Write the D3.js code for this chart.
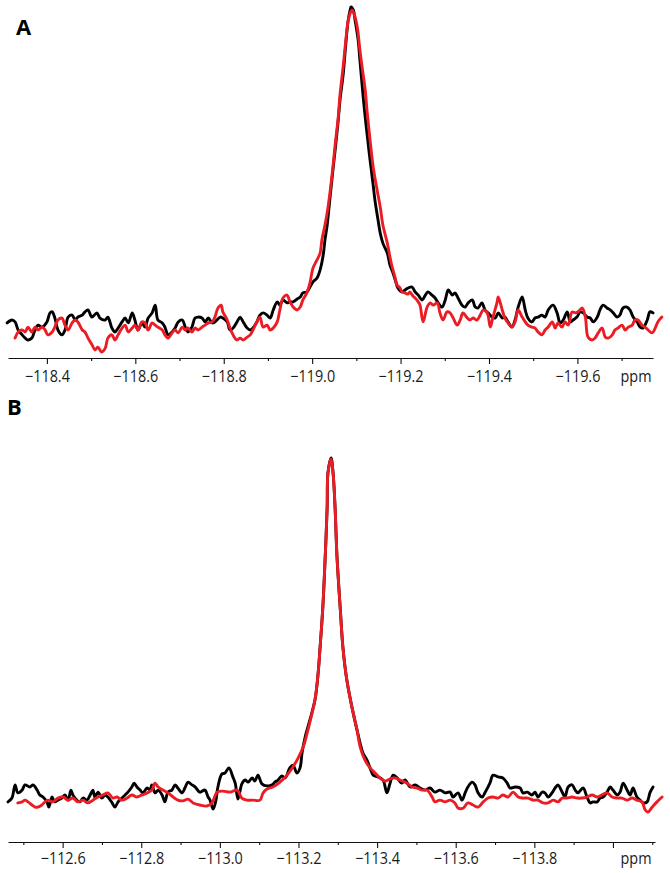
<!DOCTYPE html>
<html>
<head>
<meta charset="utf-8">
<script src="https://cdn.jsdelivr.net/npm/d3@7/dist/d3.min.js"></script>
<style>
  html, body { margin: 0; padding: 0; background: #fff; }
  svg { display: block; }
</style>
</head>
<body>
<script>
// ---------------- DATA ----------------
// Panel A: [ppm, relative intensity]
const aBlack = [[-118.310,2.2],[-118.321,3.1],[-118.328,2.5],[-118.335,0],[-118.344,-1.5],[-118.351,-2.5],[-118.357,-3.1],[-118.366,-2.5],[-118.373,0],[-118.380,1.5],[-118.389,0.9],[-118.400,2.5],[-118.407,5.3],[-118.412,5.6],[-118.418,3.7],[-118.425,0],[-118.434,-1.5],[-118.441,0],[-118.448,4.0],[-118.457,4.6],[-118.464,3.1],[-118.470,4.0],[-118.480,4.6],[-118.486,5.6],[-118.493,6.2],[-118.502,4.0],[-118.513,5.3],[-118.520,3.7],[-118.532,3.1],[-118.538,4.0],[-118.547,0.6],[-118.554,-0.6],[-118.561,0.6],[-118.570,2.5],[-118.577,3.7],[-118.584,2.2],[-118.593,5.3],[-118.599,3.1],[-118.606,0],[-118.615,2.2],[-118.622,0.9],[-118.629,3.7],[-118.638,5.3],[-118.645,7.7],[-118.651,3.1],[-118.661,2.2],[-118.667,0.9],[-118.674,-1.5],[-118.683,-0.6],[-118.690,0.6],[-118.697,2.5],[-118.706,3.1],[-118.713,0.9],[-118.719,-0.6],[-118.728,0.9],[-118.735,3.7],[-118.742,4.0],[-118.751,3.7],[-118.758,2.5],[-118.765,3.7],[-118.774,2.2],[-118.780,2.5],[-118.792,4.0],[-118.798,3.7],[-118.808,2.5],[-118.814,0],[-118.821,0.6],[-118.830,2.5],[-118.837,4.0],[-118.844,2.5],[-118.853,0.6],[-118.860,0],[-118.866,0.6],[-118.875,2.5],[-118.882,4.6],[-118.889,5.3],[-118.898,4.6],[-118.905,3.7],[-118.912,6.2],[-118.921,8.7],[-118.927,7.7],[-118.934,9.3],[-118.943,8.4],[-118.950,8.7],[-118.957,8.7],[-118.966,9.6],[-118.973,10.2],[-118.979,11.5],[-118.988,11.8],[-118.995,13.3],[-119.002,14.9],[-119.011,16.1],[-119.018,18.6],[-119.025,23.2],[-119.029,27.9],[-119.034,32.5],[-119.041,41.8],[-119.047,49.5],[-119.052,55.7],[-119.059,65.0],[-119.063,71.2],[-119.070,78.9],[-119.075,86.7],[-119.081,95.4],[-119.086,99.1],[-119.088,100],[-119.093,99.1],[-119.097,96.0],[-119.104,89.8],[-119.108,83.6],[-119.115,72.8],[-119.120,65.9],[-119.127,57.3],[-119.131,52.6],[-119.138,44.9],[-119.142,40.2],[-119.149,34.1],[-119.154,30.0],[-119.160,26.9],[-119.170,23.8],[-119.176,20.1],[-119.183,17.6],[-119.188,15.5],[-119.194,13.0],[-119.203,11.8],[-119.210,12.4],[-119.217,13.0],[-119.226,13.3],[-119.233,11.8],[-119.240,10.8],[-119.249,9.3],[-119.256,10.8],[-119.262,11.8],[-119.271,10.8],[-119.278,9.9],[-119.285,8.4],[-119.294,7.1],[-119.301,9.3],[-119.308,12.4],[-119.317,10.8],[-119.323,11.5],[-119.330,9.9],[-119.339,7.7],[-119.346,7.1],[-119.353,8.4],[-119.362,9.3],[-119.369,7.1],[-119.375,6.8],[-119.384,8.4],[-119.391,6.2],[-119.398,5.3],[-119.407,4.0],[-119.414,3.7],[-119.421,5.3],[-119.430,3.7],[-119.436,4.0],[-119.443,2.5],[-119.452,0.9],[-119.459,3.1],[-119.466,7.1],[-119.475,10.2],[-119.482,6.2],[-119.488,3.7],[-119.497,2.5],[-119.504,3.7],[-119.511,4.0],[-119.520,4.6],[-119.527,4.0],[-119.534,6.2],[-119.545,7.7],[-119.554,5.3],[-119.561,2.2],[-119.568,3.1],[-119.577,5.6],[-119.584,2.5],[-119.590,3.1],[-119.599,4.0],[-119.606,5.6],[-119.613,5.3],[-119.622,4.0],[-119.629,3.7],[-119.636,2.5],[-119.645,4.0],[-119.651,6.2],[-119.658,7.7],[-119.667,6.8],[-119.674,6.2],[-119.681,5.3],[-119.690,4.0],[-119.696,4.6],[-119.703,6.8],[-119.712,7.1],[-119.719,6.2],[-119.726,4.0],[-119.735,2.5],[-119.742,0.9],[-119.748,0.6],[-119.758,3.1],[-119.764,5.6],[-119.771,5.3]];

const aRed = [[-118.328,-2.5],[-118.335,-0.6],[-118.344,0],[-118.351,-0.6],[-118.357,0.9],[-118.366,-0.6],[-118.373,0.9],[-118.380,0],[-118.389,0.9],[-118.396,0],[-118.402,-1.5],[-118.412,-0.6],[-118.418,0.9],[-118.425,3.1],[-118.434,3.7],[-118.441,1.5],[-118.448,0],[-118.457,2.2],[-118.464,3.1],[-118.470,2.5],[-118.480,0],[-118.486,-0.6],[-118.493,-2.5],[-118.502,-4.6],[-118.509,-6.2],[-118.515,-5.3],[-118.524,-6.8],[-118.532,-5.6],[-118.538,-2.5],[-118.547,-1.5],[-118.554,-3.1],[-118.561,-1.5],[-118.570,0.6],[-118.577,1.5],[-118.584,-0.6],[-118.593,0.6],[-118.599,1.5],[-118.606,0],[-118.615,2.5],[-118.622,2.2],[-118.629,0],[-118.638,2.2],[-118.645,1.5],[-118.651,0.9],[-118.661,0],[-118.667,-1.5],[-118.674,-2.5],[-118.683,-0.9],[-118.690,0],[-118.697,-0.9],[-118.706,0.9],[-118.713,0],[-118.719,0.6],[-118.728,-0.6],[-118.735,0.6],[-118.742,0],[-118.751,0.9],[-118.758,1.5],[-118.765,2.2],[-118.774,2.5],[-118.780,4.0],[-118.787,6.8],[-118.794,7.7],[-118.798,5.6],[-118.808,3.1],[-118.814,0.6],[-118.821,-1.5],[-118.830,-3.1],[-118.837,-2.5],[-118.844,-3.1],[-118.853,-2.2],[-118.860,-1.5],[-118.866,0],[-118.875,2.5],[-118.882,4.0],[-118.889,0.9],[-118.898,1.5],[-118.905,0],[-118.912,0.6],[-118.921,2.5],[-118.927,6.2],[-118.934,9.9],[-118.943,10.8],[-118.950,8.7],[-118.957,7.1],[-118.966,6.2],[-118.973,7.1],[-118.979,9.3],[-118.988,11.5],[-118.995,14.6],[-119.002,19.2],[-119.011,21.7],[-119.018,23.8],[-119.022,27.9],[-119.029,32.5],[-119.036,38.1],[-119.041,43.3],[-119.047,50.5],[-119.052,57.3],[-119.059,65.9],[-119.063,72.8],[-119.070,81.4],[-119.075,88.2],[-119.081,95.4],[-119.086,98.1],[-119.090,99.1],[-119.095,97.8],[-119.102,93.8],[-119.108,86.7],[-119.113,81.4],[-119.120,74.3],[-119.124,68.1],[-119.131,58.8],[-119.138,50.5],[-119.147,43.3],[-119.154,38.1],[-119.160,32.5],[-119.170,26.9],[-119.176,22.6],[-119.181,19.5],[-119.188,16.1],[-119.192,13.9],[-119.199,13.0],[-119.203,11.8],[-119.210,11.5],[-119.217,11.1],[-119.221,11.8],[-119.228,10.5],[-119.233,9.9],[-119.240,8.7],[-119.244,7.7],[-119.251,2.5],[-119.260,7.1],[-119.267,8.4],[-119.274,7.7],[-119.283,8.4],[-119.289,5.3],[-119.296,3.1],[-119.305,5.6],[-119.312,5.3],[-119.319,3.7],[-119.328,1.5],[-119.335,3.1],[-119.341,5.3],[-119.351,3.7],[-119.357,3.1],[-119.364,3.7],[-119.373,3.1],[-119.380,4.6],[-119.387,6.2],[-119.396,5.3],[-119.403,0.9],[-119.409,4.0],[-119.418,8.4],[-119.421,10.2],[-119.430,6.2],[-119.436,3.7],[-119.443,2.2],[-119.452,0.9],[-119.459,2.5],[-119.466,6.2],[-119.475,4.0],[-119.482,2.5],[-119.488,1.5],[-119.497,0.9],[-119.504,0.6],[-119.511,-0.6],[-119.520,-1.5],[-119.527,0],[-119.534,0.9],[-119.543,2.5],[-119.550,0.6],[-119.556,2.2],[-119.565,0.9],[-119.572,2.5],[-119.579,1.5],[-119.588,5.6],[-119.595,5.3],[-119.601,5.6],[-119.611,6.8],[-119.618,4.0],[-119.624,-2.2],[-119.633,-3.1],[-119.640,-2.5],[-119.647,-0.9],[-119.656,0.6],[-119.663,-2.2],[-119.670,-2.5],[-119.679,-1.5],[-119.685,0],[-119.692,0.6],[-119.701,1.5],[-119.708,0],[-119.715,0.9],[-119.724,1.5],[-119.730,3.1],[-119.737,3.1],[-119.746,1.5],[-119.753,0.9],[-119.760,0],[-119.769,-0.9],[-119.776,0.6],[-119.782,2.5],[-119.791,4.0]];

// Panel B: [ppm, relative intensity]
const bBlack = [[-112.461,0.9],[-112.471,2.0],[-112.479,5.8],[-112.486,3.5],[-112.497,4.3],[-112.504,5.8],[-112.517,5.2],[-112.525,5.8],[-112.535,4.3],[-112.542,2.9],[-112.550,2.3],[-112.560,0.9],[-112.565,-0.6],[-112.573,2.3],[-112.580,0.9],[-112.588,1.4],[-112.598,2.0],[-112.606,2.9],[-112.614,1.4],[-112.621,4.3],[-112.626,2.9],[-112.636,1.4],[-112.644,0.9],[-112.652,2.0],[-112.662,1.4],[-112.670,2.9],[-112.677,4.3],[-112.682,2.3],[-112.690,3.7],[-112.700,2.0],[-112.708,2.9],[-112.715,2.3],[-112.726,0.6],[-112.733,-0.6],[-112.741,0.9],[-112.751,2.0],[-112.759,2.9],[-112.766,3.7],[-112.776,5.2],[-112.782,6.3],[-112.789,5.2],[-112.797,4.3],[-112.804,3.5],[-112.815,4.9],[-112.822,4.3],[-112.827,5.8],[-112.835,3.5],[-112.843,4.3],[-112.853,2.9],[-112.860,0.9],[-112.868,3.7],[-112.878,4.3],[-112.886,5.8],[-112.893,4.9],[-112.904,3.5],[-112.911,4.9],[-112.919,6.6],[-112.929,5.8],[-112.937,5.2],[-112.949,3.7],[-112.962,4.3],[-112.970,2.3],[-112.975,1.4],[-112.983,-1.2],[-112.990,1.4],[-112.995,5.2],[-113.005,8.9],[-113.013,9.2],[-113.023,10.7],[-113.033,8.1],[-113.039,6.3],[-113.046,1.7],[-113.056,6.1],[-113.064,7.2],[-113.072,6.6],[-113.082,7.8],[-113.089,6.9],[-113.097,8.6],[-113.107,6.1],[-113.120,5.5],[-113.133,5.8],[-113.140,6.6],[-113.148,7.2],[-113.158,8.4],[-113.166,7.8],[-113.178,10.7],[-113.186,11.5],[-113.196,9.2],[-113.204,10.7],[-113.209,15.0],[-113.217,19.6],[-113.229,24.5],[-113.242,30.3],[-113.250,38.0],[-113.255,45.5],[-113.262,57.1],[-113.268,71.5],[-113.273,85.9],[-113.275,95.7],[-113.283,100],[-113.288,95.7],[-113.293,85.9],[-113.298,71.5],[-113.306,57.1],[-113.313,45.5],[-113.323,36.0],[-113.336,28.2],[-113.349,21.6],[-113.364,15.0],[-113.374,13.0],[-113.382,10.7],[-113.390,8.6],[-113.402,8.1],[-113.415,7.2],[-113.425,3.5],[-113.433,6.3],[-113.441,8.6],[-113.451,7.8],[-113.463,6.3],[-113.471,7.2],[-113.484,5.2],[-113.497,5.8],[-113.509,4.9],[-113.522,4.3],[-113.535,4.9],[-113.547,3.7],[-113.560,4.3],[-113.573,3.5],[-113.586,3.7],[-113.593,2.3],[-113.606,3.5],[-113.616,1.4],[-113.624,3.5],[-113.631,5.2],[-113.642,6.6],[-113.649,5.8],[-113.657,3.5],[-113.667,2.3],[-113.675,3.7],[-113.687,6.3],[-113.695,8.6],[-113.708,8.1],[-113.720,7.8],[-113.731,6.3],[-113.738,4.9],[-113.751,5.2],[-113.764,4.9],[-113.771,3.5],[-113.782,3.7],[-113.794,2.9],[-113.802,3.7],[-113.809,2.3],[-113.820,3.7],[-113.827,3.5],[-113.835,2.3],[-113.845,3.5],[-113.853,4.9],[-113.860,5.8],[-113.871,3.7],[-113.878,2.3],[-113.886,5.2],[-113.896,5.8],[-113.904,4.3],[-113.911,3.5],[-113.924,4.9],[-113.934,2.3],[-113.942,0.6],[-113.949,0.9],[-113.960,0.9],[-113.967,2.0],[-113.975,2.3],[-113.985,3.7],[-113.993,5.2],[-114.000,4.3],[-114.011,2.9],[-114.018,3.7],[-114.026,6.3],[-114.036,4.3],[-114.044,2.9],[-114.051,4.9],[-114.061,2.3],[-114.069,1.4],[-114.077,0.6],[-114.087,0.9],[-114.094,3.5],[-114.102,5.2]];

const bRed = [[-112.486,0.6],[-112.497,0.9],[-112.504,1.4],[-112.512,0.9],[-112.522,0],[-112.530,-0.6],[-112.537,-0.6],[-112.547,0],[-112.555,0.9],[-112.563,1.4],[-112.575,0.9],[-112.588,2.0],[-112.601,2.3],[-112.614,1.4],[-112.626,2.0],[-112.639,0.9],[-112.652,1.4],[-112.664,0.6],[-112.677,1.4],[-112.690,2.3],[-112.703,2.9],[-112.715,3.5],[-112.728,2.0],[-112.738,2.3],[-112.751,1.4],[-112.764,2.0],[-112.776,2.9],[-112.789,2.3],[-112.802,2.9],[-112.815,3.5],[-112.827,4.3],[-112.835,6.3],[-112.843,5.2],[-112.855,4.3],[-112.868,3.5],[-112.881,2.3],[-112.893,1.4],[-112.906,1.2],[-112.919,1.7],[-112.932,0.6],[-112.949,0],[-112.967,-0.3],[-112.980,0.6],[-112.993,3.7],[-113.008,4.0],[-113.026,3.7],[-113.044,4.3],[-113.056,2.0],[-113.069,1.4],[-113.084,1.4],[-113.102,1.4],[-113.110,3.5],[-113.120,4.6],[-113.135,5.2],[-113.153,6.6],[-113.171,8.6],[-113.186,11.0],[-113.199,13.5],[-113.212,16.7],[-113.222,20.7],[-113.229,23.9],[-113.242,30.3],[-113.250,38.0],[-113.255,45.5],[-113.262,57.1],[-113.268,71.5],[-113.273,85.9],[-113.275,95.7],[-113.283,99.7],[-113.288,95.7],[-113.293,85.9],[-113.298,71.5],[-113.306,57.1],[-113.313,45.5],[-113.323,36.0],[-113.336,28.2],[-113.349,21.6],[-113.357,16.7],[-113.369,13.0],[-113.382,10.7],[-113.395,9.2],[-113.407,7.8],[-113.420,6.9],[-113.433,7.5],[-113.446,7.8],[-113.458,7.2],[-113.476,6.3],[-113.489,5.2],[-113.502,4.9],[-113.514,4.3],[-113.527,4.3],[-113.540,2.3],[-113.547,0.9],[-113.560,1.4],[-113.573,0.9],[-113.586,1.4],[-113.598,0.6],[-113.606,-0.9],[-113.619,-0.9],[-113.631,0.6],[-113.644,0],[-113.657,-0.6],[-113.670,0.9],[-113.682,2.0],[-113.695,2.3],[-113.708,2.0],[-113.720,2.9],[-113.733,2.3],[-113.746,3.7],[-113.759,2.3],[-113.771,2.0],[-113.784,2.0],[-113.797,1.4],[-113.809,1.4],[-113.822,0.6],[-113.835,0.6],[-113.848,1.4],[-113.860,0.9],[-113.871,2.0],[-113.883,2.0],[-113.896,2.3],[-113.909,2.0],[-113.921,2.0],[-113.934,2.3],[-113.947,2.9],[-113.960,2.3],[-113.972,2.9],[-113.985,3.5],[-113.998,2.3],[-114.011,2.0],[-114.023,2.0],[-114.036,1.4],[-114.049,2.0],[-114.061,1.4],[-114.074,0.9],[-114.082,-1.4],[-114.089,-2.0],[-114.100,-0.6],[-114.112,0.9],[-114.125,2.3]];

// Axis extents and tick values (ppm)
const aDomain = [-118.312, -119.771];
const bDomain = [-112.461, -114.107];
const aMajorTicks = [-118.4, -118.6, -118.8, -119.0, -119.2, -119.4, -119.6];
const aMinorTicks = [-118.5, -118.7, -118.9, -119.1, -119.3, -119.5, -119.7];
const bMajorTicks = [-112.6, -112.8, -113.0, -113.2, -113.4, -113.6, -113.8, -114.0];
const bLabeledTicks = [-112.6, -112.8, -113.0, -113.2, -113.4, -113.6, -113.8];
const bMinorTicks = [-112.5, -112.7, -112.9, -113.1, -113.3, -113.5, -113.7, -113.9, -114.1];
const unitLabel = "ppm";
const panelLabels = ["A", "B"];

// ---------------- DRAW ----------------
const W = 670, H = 873;
const svg = d3.select("body").append("svg").attr("width", W).attr("height", H);

const fmt = d3.format(".1f");

function panel(cfg) {
  const x = d3.scaleLinear().domain(cfg.domain).range(cfg.xRange);
  const y = d3.scaleLinear().domain([0, 100]).range(cfg.yRange);
  const g = svg.append("g");

  // axis
  const ax = g.append("g").attr("transform", `translate(0,${cfg.axisY})`);
  const minor = ax.append("g").call(
    d3.axisBottom(x).tickValues(cfg.minor).tickSize(3).tickSizeOuter(0).tickFormat("")
  );
  minor.select(".domain").remove();
  const major = ax.append("g").call(
    d3.axisBottom(x).tickValues(cfg.major).tickSize(6).tickSizeOuter(0)
      .tickFormat(d => cfg.labeled.includes(d) ? fmt(d) : "")
  );
  ax.selectAll("path.domain").attr("stroke", "#111").attr("stroke-width", 1.1);
  ax.selectAll(".tick line").attr("stroke", "#111").attr("stroke-width", 1.1);
  major.selectAll(".tick text")
    .attr("y", cfg.labelY).attr("dy", null)
    .attr("font-family", "'Open Sans', sans-serif")
    .attr("font-size", 16)
    .attr("fill", "#1a1a1a")
    .attr("transform", "scale(0.9,1)");

  g.append("text")
    .attr("transform", `translate(${cfg.ppmX},${cfg.axisY + cfg.labelY}) scale(0.9,1)`)
    .attr("text-anchor", "middle")
    .attr("font-family", "'Open Sans', sans-serif")
    .attr("font-size", 16)
    .attr("fill", "#1a1a1a")
    .text(unitLabel);

  const line = d3.line()
    .x(d => x(d[0]))
    .y(d => y(d[1]))
    .curve(d3.curveCatmullRom.alpha(0.5));

  g.append("path").datum(cfg.black)
    .attr("d", line).attr("fill", "none")
    .attr("stroke", "#000").attr("stroke-width", 2.9)
    .attr("stroke-linejoin", "round").attr("stroke-linecap", "round");
  g.append("path").datum(cfg.red)
    .attr("d", line).attr("fill", "none")
    .attr("stroke", "#ec1c24").attr("stroke-width", 2.9)
    .attr("stroke-linejoin", "round").attr("stroke-linecap", "round");

  g.append("text")
    .attr("x", cfg.letterX).attr("y", cfg.letterY)
    .attr("font-family", "'Open Sans', Arial, sans-serif")
    .attr("font-weight", "bold")
    .attr("font-size", 22)
    .attr("fill", "#000")
    .text(cfg.letter);
}

panel({
  domain: aDomain, xRange: [8, 653], yRange: [330, 7], axisY: 358,
  major: aMajorTicks, minor: aMinorTicks, labeled: aMajorTicks,
  labelY: 24, ppmX: 636, black: aBlack, red: aRed,
  letter: panelLabels[0], letterX: 16, letterY: 35
});

panel({
  domain: bDomain, xRange: [8, 655], yRange: [805, 458], axisY: 842,
  major: bMajorTicks, minor: bMinorTicks, labeled: bLabeledTicks,
  labelY: 22, ppmX: 636, black: bBlack, red: bRed,
  letter: panelLabels[1], letterX: 7, letterY: 415
});
</script>
</body>
</html>
